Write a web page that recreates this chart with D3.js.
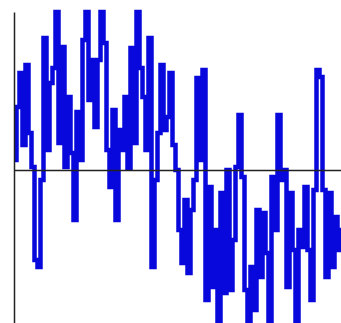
<!DOCTYPE html>
<html>
<head>
<meta charset="utf-8">
<script src="https://cdn.jsdelivr.net/npm/d3@7"></script>
<style>
  html, body { margin: 0; padding: 0; background: #fff; }
  svg { display: block; }
</style>
</head>
<body>
<div id="chart"></div>
<script>
// signal samples (uniform spacing)
const values = [
  0.10, 0.63, 0.97, 0.25, 1.05, 0.37, 0.03, -0.90, -0.97, -0.10,
  1.32, 0.20, 0.87, 1.02, 1.58, 0.27, 1.23, 0.03, 0.73, 0.17,
  -0.50, 0.58, 0.10, 1.30, 1.58, 0.70, 1.10, 0.43, 1.10, 1.58,
  1.27, 0.20, -0.17, 0.60, -0.50, 0.40, 0.20, 0.73, 0.02, 1.22,
  0.27, 1.58, 1.02, 0.73, 0.20, 1.32, -0.97, -0.10, 0.37, 1.05,
  0.40, 0.53, 0.97, 0.25, 0.00, -0.60, -0.93, -0.30, -1.03, -0.40,
  -0.10, 0.92, 0.10, 1.00, -1.30, -0.17, -1.17, -0.60, -1.60, -0.23,
  -1.23, 0.00, -1.20, -0.70, 0.03, 0.55, -0.07, -1.20, -1.60, -0.97,
  -1.40, -0.40, -1.07, -0.43, -0.83, -1.60, -0.07, -0.60, 0.55, -0.10,
  0.00, -1.17, -0.23, -0.80, -1.60, -0.60, -0.77, -0.17, -0.80, -1.30,
  -0.20, 1.00, 0.93, -0.20, -1.07, -0.23, -0.97, -0.47, -0.80, -0.60
];
const yDomain = [-1.53, 1.58];

const width = 341, height = 323;

const svg = d3.select("#chart")
  .append("svg")
  .attr("width", width)
  .attr("height", height);

const x = d3.scaleLinear().domain([0, values.length - 1]).range([15, 342]);
const y = d3.scaleLinear().domain(yDomain).range([323, 12]);

// the signal, drawn as steps so the strokes come out as vertical bars
const line = d3.line()
  .curve(d3.curveStep)
  .x((d, i) => x(i))
  .y(d => y(d));

svg.append("path")
  .datum(values)
  .attr("fill", "none")
  .attr("stroke", "#0808dc")
  .attr("stroke-width", 4.5)
  .attr("stroke-linejoin", "miter")
  .attr("d", line);

// axes, no ticks
svg.append("g")
  .attr("transform", "translate(0," + y(0) + ")")
  .call(d3.axisBottom(d3.scaleLinear().range([14, 341])).tickValues([]).tickSizeOuter(0));

svg.append("g")
  .attr("transform", "translate(14,0)")
  .call(d3.axisLeft(y).tickValues([]).tickSizeOuter(0));

svg.selectAll(".domain")
  .attr("stroke", "#222")
  .attr("stroke-width", 1.5);
</script>
</body>
</html>
